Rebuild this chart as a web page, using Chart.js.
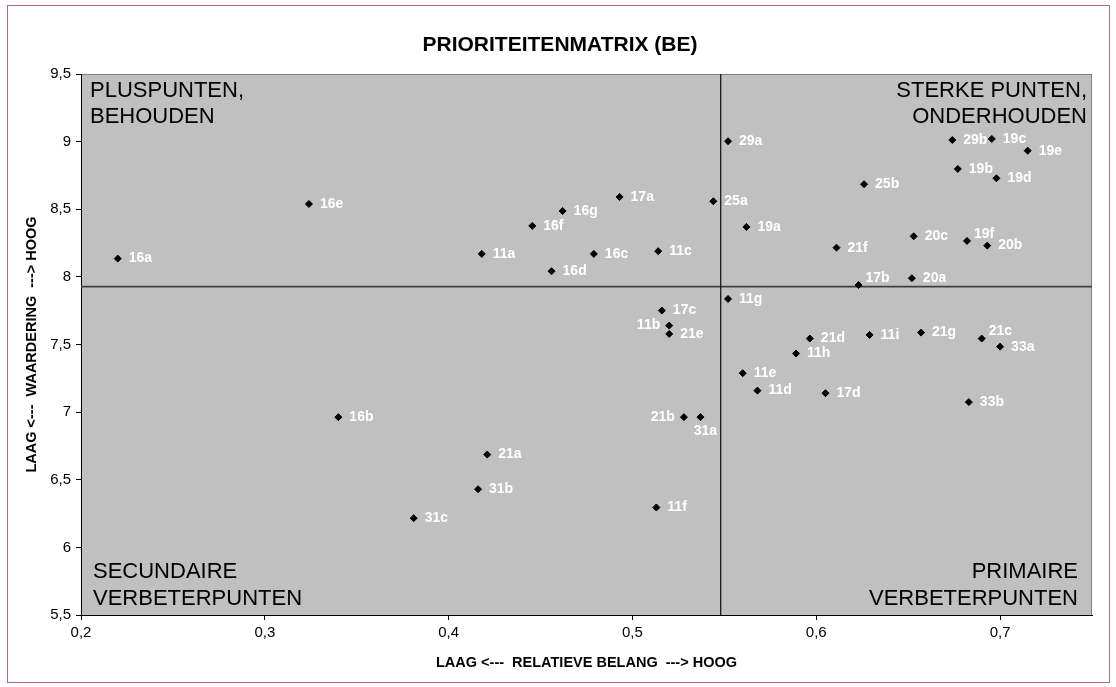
<!DOCTYPE html>
<html>
<head>
<meta charset="utf-8">
<title>Prioriteitenmatrix (BE)</title>
<script src="https://cdn.jsdelivr.net/npm/chart.js@4.4.1/dist/chart.umd.min.js"></script>
<style>
  html, body { margin: 0; padding: 0; background: #ffffff; }
  #wrap { width: 1116px; height: 687px; position: relative; }
</style>
</head>
<body>
<div id="wrap"><canvas id="matrix" width="1116" height="687"></canvas></div>
<script>
// Item codes, relative importance (x) and appreciation score (y)
const itemCodes = ['16a','16e','16g','16f','11a','16d','16c','29a','17a','25a','19a','11c',
  '11g','17c','11b','21e','29b','19c','19e','19b','19d','25b','20c','19f','20b','21f',
  '17b','20a','21d','11h','11e','11d','21b','31a','17d','11i','21g','21c','33a','33b',
  '16b','21a','31b','31c','11f'];
const relatiefBelang = [0.220,0.324,0.462,0.4455,0.418,0.456,0.479,0.552,0.493,0.544,0.562,0.514,
  0.552,0.516,0.520,0.520,0.674,0.6955,0.715,0.677,0.698,0.626,0.653,0.682,0.693,0.611,
  0.623,0.652,0.5965,0.589,0.560,0.568,0.528,0.537,0.605,0.629,0.657,0.690,0.700,0.683,
  0.340,0.421,0.416,0.381,0.513];
const waardering = [8.135,8.539,8.487,8.377,8.170,8.042,8.170,9.003,8.591,8.559,8.369,8.190,
  7.837,7.751,7.640,7.578,9.012,9.020,8.933,8.798,8.729,8.685,8.300,8.266,8.231,8.216,
  7.940,7.990,7.544,7.433,7.288,7.159,6.963,6.963,7.140,7.571,7.588,7.544,7.484,7.074,
  6.963,6.686,6.430,6.216,6.295];

// Averages that split the matrix into four quadrants
const gemiddeldBelang = 0.548;
const gemiddeldeWaardering = 7.928;

// Axis ranges and tick values
const xRange = [0.2, 0.75];
const yRange = [5.5, 9.5];
const xTickValues = [0.2, 0.3, 0.4, 0.5, 0.6, 0.7];
const yTickValues = [5.5, 6, 6.5, 7, 7.5, 8, 8.5, 9, 9.5];

const chartTitle = 'PRIORITEITENMATRIX (BE)';
const xAxisTitle = 'LAAG <---  RELATIEVE BELANG  ---> HOOG';
const yAxisTitle = 'LAAG <---  WAARDERING  ---> HOOG';
const quadrantTopLeft = ['PLUSPUNTEN,', 'BEHOUDEN'];
const quadrantTopRight = ['STERKE PUNTEN,', 'ONDERHOUDEN'];
const quadrantBottomLeft = ['SECUNDAIRE', 'VERBETERPUNTEN'];
const quadrantBottomRight = ['PRIMAIRE', 'VERBETERPUNTEN'];

const FONT = "'Liberation Sans', Arial, Helvetica, sans-serif";
const commaNumber = v => String(Math.round(v * 100) / 100).replace('.', ',');

// Where a point's code sits when the default (right of the marker) would collide
const labelPlacement = { '11b': 'left', '21b': 'left', '31a': 'below',
                         '17b': 'upRight', '19f': 'upRight', '21c': 'upRight' };

const matrixDecor = {
  id: 'matrixDecor',
  beforeDraw(chart) {
    const { ctx, chartArea: a } = chart;
    ctx.save();
    ctx.fillStyle = '#ffffff';
    ctx.fillRect(0, 0, chart.width, chart.height);
    ctx.strokeStyle = '#b8669a';
    ctx.lineWidth = 1;
    ctx.strokeRect(7.5, 5.5, 1102, 677);
    ctx.fillStyle = '#c0c0c0';
    ctx.fillRect(a.left, a.top, a.right - a.left, a.bottom - a.top);
    ctx.strokeStyle = '#808080';
    ctx.strokeRect(a.left + 0.5, a.top + 0.5, a.right - a.left - 1, a.bottom - a.top);
    ctx.restore();
  },
  afterDraw(chart) {
    const { ctx, chartArea: a } = chart;
    ctx.save();
    // chart title
    ctx.fillStyle = '#000000';
    ctx.textBaseline = 'middle';
    ctx.textAlign = 'center';
    ctx.font = 'bold 21px ' + FONT;
    ctx.fillText(chartTitle, 560, 45);
    // axis titles
    ctx.font = 'bold 14.5px ' + FONT;
    ctx.fillText(xAxisTitle, (a.left + a.right) / 2, 663);
    ctx.save();
    ctx.translate(32, (a.top + a.bottom) / 2);
    ctx.rotate(-Math.PI / 2);
    ctx.fillText(yAxisTitle, 0, 0);
    ctx.restore();
    // quadrant captions
    ctx.font = '22px ' + FONT;
    ctx.textAlign = 'left';
    ctx.fillText(quadrantTopLeft[0], a.left + 9, 91);
    ctx.fillText(quadrantTopLeft[1], a.left + 9, 117);
    ctx.fillText(quadrantBottomLeft[0], a.left + 12, 572);
    ctx.fillText(quadrantBottomLeft[1], a.left + 12, 599);
    ctx.textAlign = 'right';
    ctx.fillText(quadrantTopRight[0], a.right - 5, 91);
    ctx.fillText(quadrantTopRight[1], a.right - 5, 117);
    ctx.fillText(quadrantBottomRight[0], a.right - 14, 572);
    ctx.fillText(quadrantBottomRight[1], a.right - 14, 599);
    // item codes next to the markers
    ctx.fillStyle = '#ffffff';
    ctx.font = 'bold 14px ' + FONT;
    const meta = chart.getDatasetMeta(0);
    meta.data.forEach((pt, i) => {
      const code = itemCodes[i];
      const place = labelPlacement[code];
      if (place === 'left') {
        ctx.textAlign = 'right';
        ctx.fillText(code, pt.x - 9, pt.y);
      } else if (place === 'below') {
        ctx.textAlign = 'center';
        ctx.fillText(code, pt.x + 5, pt.y + 14);
      } else if (place === 'upRight') {
        ctx.textAlign = 'left';
        ctx.fillText(code, pt.x + 7, pt.y - 7);
      } else {
        ctx.textAlign = 'left';
        ctx.fillText(code, pt.x + 11, pt.y);
      }
    });
    ctx.restore();
  }
};

const items = relatiefBelang.map((x, i) => ({ x, y: waardering[i] }));

new Chart(document.getElementById('matrix'), {
  type: 'scatter',
  data: {
    datasets: [
      {
        data: items,
        pointStyle: 'rectRot',
        pointRadius: 3.5,
        pointBorderWidth: 1,
        backgroundColor: '#000000',
        borderColor: '#000000'
      },
      {
        data: [{ x: gemiddeldBelang, y: yRange[0] }, { x: gemiddeldBelang, y: yRange[1] }],
        showLine: true,
        pointRadius: 0,
        borderColor: '#1a1a1a',
        borderWidth: 1.3
      },
      {
        data: [{ x: xRange[0], y: gemiddeldeWaardering }, { x: xRange[1], y: gemiddeldeWaardering }],
        showLine: true,
        pointRadius: 0,
        borderColor: '#404040',
        borderWidth: 1.6
      }
    ]
  },
  options: {
    responsive: false,
    animation: false,
    devicePixelRatio: 1,
    events: [],
    layout: { padding: { left: 0, top: 74, right: 24, bottom: 0 } },
    plugins: { legend: { display: false }, tooltip: { enabled: false }, title: { display: false } },
    scales: {
      x: {
        type: 'linear',
        min: xRange[0],
        max: xRange[1],
        afterBuildTicks: s => { s.ticks = xTickValues.map(v => ({ value: v })); },
        afterFit: s => { s.height = 72; },
        grid: { drawOnChartArea: false, drawTicks: true, tickLength: 5, color: '#000000' },
        border: { display: true, color: '#000000', width: 1 },
        ticks: { color: '#000000', padding: 4, maxRotation: 0, font: { family: FONT, size: 15 },
                 callback: v => commaNumber(v) }
      },
      y: {
        type: 'linear',
        min: yRange[0],
        max: yRange[1],
        afterBuildTicks: s => { s.ticks = yTickValues.map(v => ({ value: v })); },
        afterFit: s => { s.width = 81; },
        grid: { drawOnChartArea: false, drawTicks: true, tickLength: 5, color: '#000000' },
        border: { display: true, color: '#000000', width: 1 },
        ticks: { color: '#000000', padding: 5, font: { family: FONT, size: 15 },
                 callback: v => commaNumber(v) }
      }
    }
  },
  plugins: [matrixDecor]
});
</script>
</body>
</html>
